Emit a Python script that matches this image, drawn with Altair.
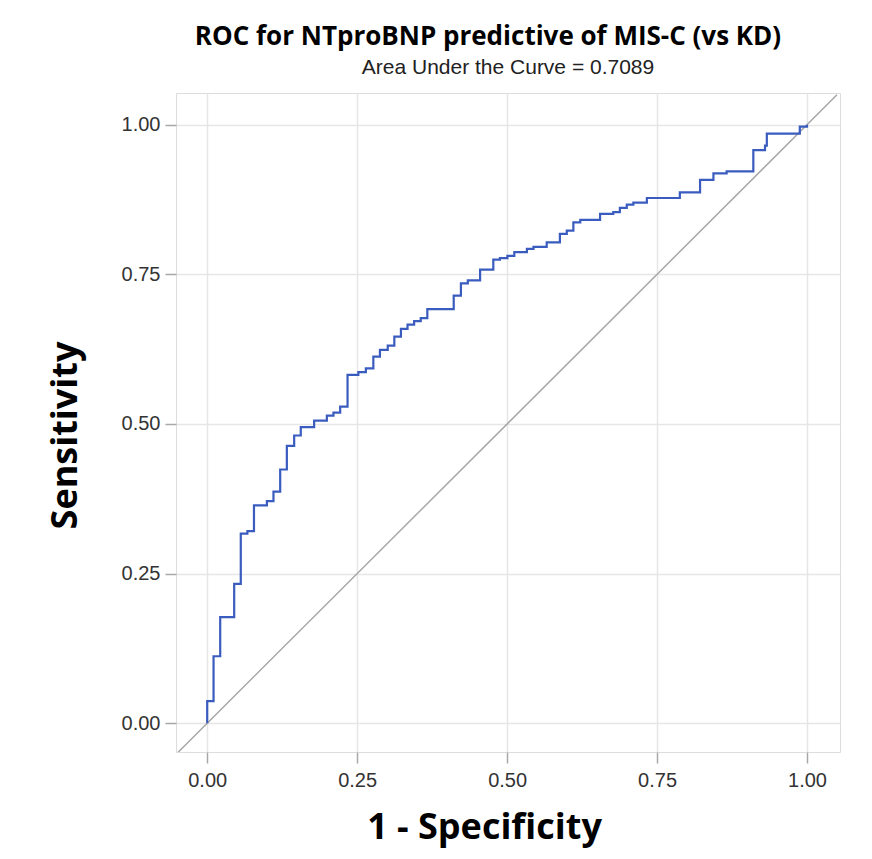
import altair as alt
import pandas as pd

# ROC step vertices: (1 - specificity, sensitivity level held until next vertex)
fpr = [0.0, 0.0, 0.0106, 0.0217, 0.045, 0.056, 0.067, 0.078, 0.0995, 0.1105,
       0.1217, 0.1328, 0.145, 0.156, 0.1783, 0.1995, 0.2105, 0.2217, 0.234, 0.252,
       0.2645, 0.277, 0.288, 0.301, 0.312, 0.323, 0.334, 0.345, 0.356, 0.367,
       0.411, 0.423, 0.4345, 0.455, 0.477, 0.488, 0.5005, 0.512, 0.533, 0.544,
       0.566, 0.588, 0.5995, 0.6105, 0.622, 0.655, 0.677, 0.688, 0.6995, 0.7105,
       0.733, 0.788, 0.8217, 0.844, 0.866, 0.9105, 0.93, 0.933, 0.988, 1.0]
sens = [0.0, 0.037, 0.112, 0.1775, 0.233, 0.317, 0.321, 0.364, 0.371, 0.387,
        0.424, 0.4636, 0.4808, 0.4947, 0.5058, 0.514, 0.519, 0.529, 0.582, 0.5865,
        0.593, 0.6127, 0.6238, 0.631, 0.646, 0.659, 0.666, 0.672, 0.677, 0.692,
        0.7145, 0.735, 0.74, 0.758, 0.7746, 0.777, 0.781, 0.787, 0.7925, 0.796,
        0.8035, 0.8175, 0.823, 0.837, 0.841, 0.851, 0.854, 0.861, 0.8665, 0.870,
        0.8776, 0.887, 0.9077, 0.9187, 0.922, 0.9577, 0.965, 0.985, 0.9967, 1.0]

diag_vals = [-0.05, 1.05]
tick_vals = [0.0, 0.25, 0.5, 0.75, 1.0]
title_text = "ROC for NTproBNP predictive of MIS-C (vs KD)"
subtitle_text = "Area Under the Curve = 0.7089"

roc = pd.DataFrame({"fpr": fpr, "sens": sens, "order": list(range(len(fpr)))})
diag = pd.DataFrame({"a": diag_vals, "b": diag_vals})

xscale = alt.Scale(domain=[-0.052, 1.055], nice=False, zero=False)
yscale = alt.Scale(domain=[-0.048, 1.053], nice=False, zero=False)

axis_common = dict(
    values=tick_vals, format=".2f", labelFont="Liberation Sans", labelFontSize=20,
    labelColor="#333333", tickColor="#a8a8a8", tickSize=11, tickWidth=1.5, domain=False,
    gridColor="#e6e6e6", gridWidth=1.5, titleFont="Open Sans", titleFontWeight="bold",
    titleFontSize=36, titleColor="#000000",
)

xaxis = alt.Axis(title="1 - Specificity", labelPadding=7, titleX=308, titleY=58, **axis_common)
yaxis = alt.Axis(title="Sensitivity", labelPadding=5, titleX=-92, titleY=342, **axis_common)

diag_line = alt.Chart(diag).mark_line(color="#a8a8a8", strokeWidth=1.5, clip=True).encode(
    x=alt.X("a:Q", scale=xscale, axis=xaxis),
    y=alt.Y("b:Q", scale=yscale, axis=yaxis),
)

roc_line = alt.Chart(roc).mark_line(color="#3a5cbf", strokeWidth=2.2, interpolate="step-after").encode(
    x=alt.X("fpr:Q", scale=xscale),
    y=alt.Y("sens:Q", scale=yscale),
    order="order:Q",
)

sub = alt.Chart(pd.DataFrame({"t": [subtitle_text]})).mark_text(
    font="Liberation Sans", fontSize=21, color="#222222", clip=False
).encode(
    text="t:N", x=alt.value(332), y=alt.value(-25)
)

chart = alt.layer(diag_line, roc_line, sub).properties(
    width=664, height=659,
    title=alt.TitleParams(
        text=title_text, font="Open Sans", fontSize=26, fontWeight="bold",
        color="#000000", anchor="middle", dx=-20, offset=7,
    ),
    autosize=alt.AutoSizeParams(type="none"),
    padding={"left": 168, "top": 85, "right": 16, "bottom": 97},
).configure_view(stroke="#a8a8a8", strokeWidth=1.5).configure(background="white")

chart.save("out.html", embed_options={"renderer": "svg", "actions": False})
